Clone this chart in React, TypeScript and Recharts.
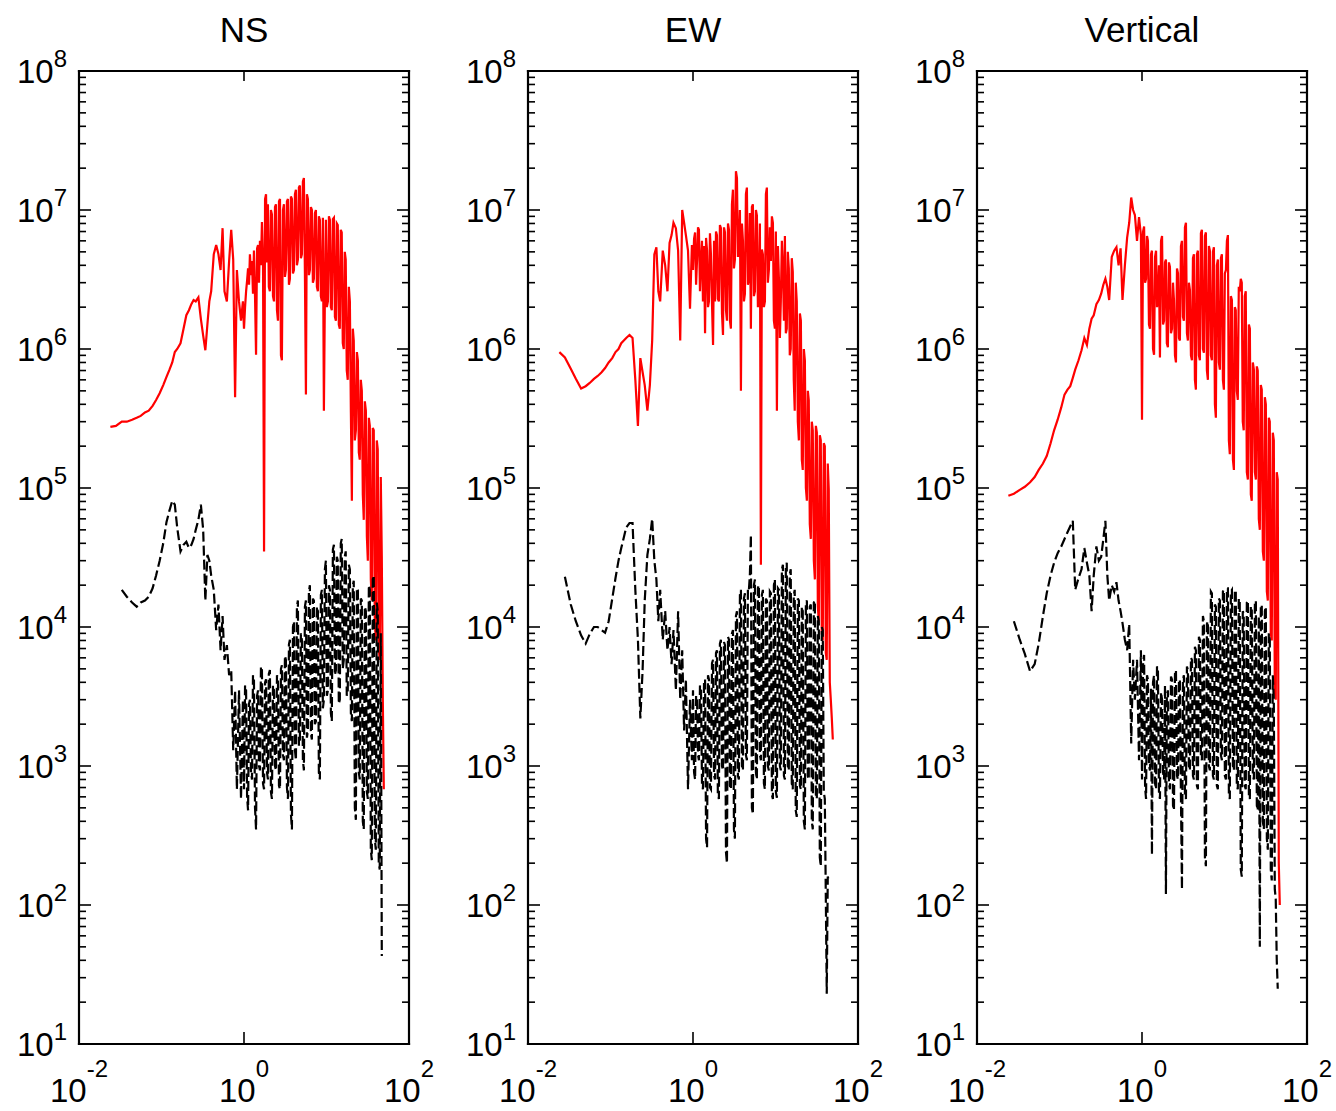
import { LineChart, Line, XAxis, YAxis } from 'recharts'

// frequency grid (Hz), shared by the three components
const freqs = [
  0.024, 0.028, 0.033, 0.038, 0.044, 0.05, 0.056, 0.063, 0.07, 0.078,
  0.086, 0.095, 0.105, 0.115, 0.125, 0.135, 0.145, 0.155, 0.17, 0.185,
  0.2, 0.215, 0.23, 0.245, 0.26, 0.28, 0.3, 0.32, 0.34, 0.36,
  0.38, 0.4, 0.43, 0.46, 0.49, 0.52, 0.55, 0.58, 0.62, 0.66,
  0.7, 0.74, 0.78, 0.82, 0.87, 0.92, 0.97,
  1.0, 1.03, 1.06, 1.09, 1.12, 1.15, 1.18, 1.215, 1.25, 1.285,
  1.32, 1.36, 1.4, 1.44, 1.48, 1.52, 1.56, 1.605, 1.65, 1.7,
  1.75, 1.8, 1.85, 1.9, 1.95, 2.0, 2.06, 2.12, 2.18, 2.245,
  2.31, 2.375, 2.44, 2.51, 2.58, 2.655, 2.73, 2.805, 2.88, 2.965,
  3.05, 3.135, 3.22, 3.315, 3.41, 3.505, 3.6, 3.705, 3.81, 3.92,
  4.03, 4.145, 4.26, 4.38, 4.5, 4.63, 4.76, 4.895, 5.03, 5.175,
  5.32, 5.475, 5.63, 5.79, 5.95, 6.12, 6.29, 6.47, 6.65, 6.84,
  7.03, 7.235, 7.44, 7.65, 7.86, 8.08, 8.31, 8.545, 8.79, 9.04,
  9.3, 9.565, 9.83, 10.1, 10.4, 10.7, 11.0, 11.3, 11.6, 11.95,
  12.3, 12.65, 13.0, 13.35, 13.7, 14.1, 14.5, 14.9, 15.3, 15.75,
  16.2, 16.65, 17.1, 17.6, 18.1, 18.65, 19.2, 19.75, 20.3, 20.85,
  21.4, 22.05, 22.7, 23.35, 24.0, 24.65, 25.3, 26.05, 26.8, 27.55,
  28.3, 29.15, 30.0, 30.85, 31.7, 32.6, 33.5, 34.45, 35.4, 36.4,
  37.4, 38.5, 39.6, 40.7, 41.8, 43.0, 44.2, 45.5, 46.8, 48.15,
  49.5
]

const nsRed = [
  2.75e5, 2.8e5, 3.0e5, 3.0e5, 3.1e5, 3.2e5, 3.3e5, 3.5e5, 3.6e5, 3.9e5,
  4.3e5, 4.8e5, 5.5e5, 6.3e5, 7.1e5, 8e5, 9.5e5, 1.0e6, 1.1e6, 1.4e6,
  1.75e6, 1.9e6, 2.1e6, 2.25e6, 2.2e6, 2.35e6, 1.65e6, 1.25e6, 9.8e5, 1.5e6,
  2.2e6, 2.6e6, 4.8e6, 5.6e6, 4.8e6, 3.7e6, 7.4e6, 2.6e6, 2.2e6, 4.3e6,
  7.2e6, 4.4e6, 4.5e5, 3.7e6, 2.2e6, 1.6e6, 2.2e6,
  1.4e6, 2.0e6, 2.6e6, 3.1e6, 3.8e6, 2.9e6, 4.8e6, 3.4e6, 4.3e6, 2.5e6, 5.1e6, 2.4e6, 9.1e5, 5.3e6, 5.6e6, 3.0e6, 6.0e6, 4.0e6, 8.2e6, 4.5e6,
  3.5e4, 1.2e7, 1.3e7, 4.2e6, 1.1e7, 2.8e6, 2.6e6, 1.0e7, 9.3e6, 2.4e6, 2.2e6, 1.05e7, 1.1e7, 1.9e6, 1.6e6, 1.15e7, 1.2e7, 9e5, 8.3e5, 1.0e7,
  1.1e7, 3.3e6, 3.7e6, 1.15e7, 1.2e7, 2.9e6, 3.2e6, 1.25e7, 1.2e7, 3.5e6, 3.7e6, 1.3e7, 1.4e7, 4.0e6, 4.4e6, 1.45e7, 1.5e7, 4.5e6, 4.8e6, 1.6e7,
  1.7e7, 3.5e6, 4.7e5, 1.3e7, 1.2e7, 3.4e6, 3.7e6, 1.05e7, 1.0e7, 3.0e6, 3.2e6, 9.5e6, 1.0e7, 2.8e6, 2.6e6, 9.0e6, 8.5e6, 2.4e6, 2.2e6, 8.8e6,
  3.6e5, 2.5e6, 8.5e6, 2.0e6, 2.2e6, 9.0e6, 8.5e6, 2.0e6, 1.9e6, 8.6e6, 8.8e6, 1.7e6, 1.6e6, 8.0e6, 7.8e6, 1.5e6, 1.4e6, 7.2e6, 6.9e6, 1.1e6,
  1.0e6, 5.0e6, 4.4e6, 7.0e5, 6.0e5, 2.8e6, 2.2e6, 3.5e5, 8.1e4, 1.4e6, 1.15e6, 2.2e5, 2.6e5, 9.5e5, 8.3e5, 1.8e5, 1.6e5, 6.0e5, 5.0e5, 9.0e4,
  5.9e4, 4.2e5, 3.6e5, 4.5e4, 3.0e4, 3.2e5, 2.8e5, 2.2e4, 1.55e4, 2.7e5, 2.6e5, 1.1e4, 8e3, 2.2e5, 1.9e5, 7e3, 5.8e3, 1.2e5, 3.2e4, 3e3,
  6.8e2
]

const nsBlack = [
  null, null, 1.85e4, 1.65e4, 1.5e4, 1.4e4, 1.5e4, 1.55e4, 1.65e4, 1.9e4,
  2.35e4, 3.0e4, 4.0e4, 5.7e4, 6.9e4, 8.1e4, 7.6e4, 5.2e4, 3.5e4, 3.9e4,
  4.1e4, 3.7e4, 3.9e4, 4.3e4, 5.0e4, 5.9e4, 7.6e4, 5.0e4, 1.55e4, 3.3e4,
  3.0e4, 2.35e4, 1.85e4, 9.5e3, 1.45e4, 6.8e3, 1.2e4, 5.8e3, 7.4e3, 4.5e3,
  4.9e3, 1.3e3, 3.5e3, 6.8e2, 3.5e3, 5.8e2, 3.0e3,
  6.8e2, 3.8e3, 3.5e3, 6e2, 4.8e2, 2.8e3, 3.0e3, 9e2, 8e2, 4.5e3, 4.2e3, 5e2, 3.5e2, 3.2e3, 3.5e3, 1.0e3, 9.3e2, 5.2e3, 4.9e3, 7.5e2,
  6.8e2, 4.0e3, 4.2e3, 9e2, 8e2, 4.6e3, 4.9e3, 6.5e2, 5.8e2, 3.8e3, 3.5e3, 1.0e3, 9.3e2, 4.5e3, 4.2e3, 7.2e2, 6.8e2, 5.0e3, 5.3e3, 1.2e3,
  1.1e3, 6.2e3, 5.8e3, 7e2, 5.8e2, 7.5e3, 8.1e3, 4.5e2, 3.5e2, 1.0e4, 1.1e4, 1.3e3, 1.1e3, 1.4e4, 1.55e4, 1.4e3, 1.55e3, 9e3, 8.1e3, 1.1e3,
  9.3e2, 1.4e4, 1.55e4, 1.6e3, 1.8e3, 1.8e4, 2.0e4, 1.7e3, 1.55e3, 1.6e4, 1.55e4, 2.0e3, 2.1e3, 1.4e4, 1.3e4, 9e2, 8e2, 1.7e4, 1.85e4, 2.6e3,
  3.0e3, 2.6e4, 3.0e4, 3.2e3, 3.5e3, 2.0e4, 1.85e4, 2.4e3, 2.1e3, 3.6e4, 3.9e4, 4.5e3, 4.9e3, 3.2e4, 3.0e4, 2.8e3, 3.0e3, 4.0e4, 4.3e4, 5.0e3,
  5.8e3, 3.2e4, 3.5e4, 3.2e3, 3.5e3, 2.8e4, 2.6e4, 2.4e3, 2.1e3, 2.0e4, 2.15e4, 5e2, 4.1e2, 1.9e4, 1.85e4, 9e2, 8e2, 1.6e4, 1.55e4, 4e2,
  3.5e2, 1.4e4, 1.3e4, 6.5e2, 5.8e2, 2.0e4, 1.85e4, 2.5e2, 2.1e2, 2.2e4, 2.35e4, 3e2, 2.5e2, 1.5e4, 1.3e4, 2.0e2, 1.8e2, 9e3, 4.3e1, null,
  null
]

const ewRed = [
  9.5e5, 8.7e5, 7.2e5, 6.1e5, 5.2e5, 5.4e5, 5.7e5, 6.1e5, 6.4e5, 6.8e5,
  7.3e5, 8e5, 8.6e5, 9.5e5, 1.0e6, 1.1e6, 1.15e6, 1.2e6, 1.26e6, 1.2e6,
  6e5, 2.8e5, 8.6e5, 6.8e5, 5.5e5, 3.6e5, 5.5e5, 1.15e6, 4.8e6, 5.4e6,
  2.6e6, 2.2e6, 5.1e6, 4e6, 2.6e6, 5.8e6, 6.6e6, 8.1e6, 7.4e6, 5.1e6,
  1.15e6, 1.0e7, 8.1e6, 6.6e6, 5.1e6, 1.95e6, 5.6e6,
  3.7e6, 6.2e6, 6.9e6, 2.9e6, 4.4e6, 7.5e6, 7.2e6, 2.6e6, 4.3e6, 6.0e6, 2.2e6, 5.5e6, 1.3e6, 6.3e6, 5.1e6, 2.0e6, 2.2e6, 6.8e6, 4.8e6, 2.1e6,
  1.07e6, 6.0e6, 2.2e6, 7.0e6, 6.6e6, 2.3e6, 2.2e6, 7.8e6, 7.4e6, 1.8e6, 1.26e6, 7.5e6, 6.9e6, 1.9e6, 1.6e6, 8.0e6, 7.2e6, 1.6e6, 1.4e6, 1.1e7,
  1.4e7, 3.8e6, 4.4e6, 1.9e7, 1.7e7, 4.6e6, 5.1e6, 1.0e7, 5e5, 8.0e6, 6e6, 2.2e6, 2.5e6, 1.3e7, 1.45e7, 2.9e6, 3.2e6, 9.5e6, 1.4e6, 1.05e7,
  1.1e7, 2.4e6, 2.6e6, 1.0e7, 9.1e6, 2.0e6, 2.2e6, 8.0e6, 2.8e4, 5.2e6, 4.8e6, 2.0e6, 2.2e6, 1.3e7, 1.45e7, 3.0e6, 3.7e6, 7.5e6, 4.3e6, 9.0e6,
  8.1e6, 1.6e6, 1.4e6, 7.0e6, 3.6e5, 5.5e6, 3.2e6, 1.2e6, 2.2e6, 6.0e6, 3.7e6, 1.6e6, 6.5e6, 1.3e6, 1.4e6, 5.0e6, 3.8e6, 9e5, 1.0e6, 4.5e6,
  3.6e6, 6e5, 3.6e5, 3.0e6, 2.2e6, 3.0e5, 2.2e5, 1.8e6, 1.6e6, 1.6e5, 1.35e5, 1.0e6, 8.3e5, 1.0e5, 8.1e4, 5.0e5, 4.3e5, 5.5e4, 4.3e4, 3.0e5,
  2.6e5, 3.0e4, 2.2e4, 2.8e5, 2.5e5, 1.4e4, 1.1e4, 2.4e5, 2.2e5, 9e3, 8e3, 2.1e5, 2.0e5, 6.5e3, 5.8e3, 1.5e5, 9.8e4, 4e3, 3.0e3, 2.2e3,
  1.55e3
]

const ewBlack = [
  null, 2.3e4, 1.45e4, 1.1e4, 8.7e3, 7.6e3, 8.9e3, 1.0e4, 1.0e4, 9.5e3,
  9.1e3, 1.1e4, 1.6e4, 2.25e4, 3.0e4, 3.7e4, 4.4e4, 5.2e4, 5.6e4, 5.6e4,
  1.85e4, 8.1e3, 2.2e3, 4.9e3, 1.55e4, 3.3e4, 4.3e4, 6.0e4, 3.0e4, 2.2e4,
  1.1e4, 1.85e4, 8.1e3, 1.3e4, 6.8e3, 1.0e4, 5.4e3, 9.5e3, 3.5e3, 1.3e4,
  3.0e3, 6.8e3, 1.8e3, 4.2e3, 6.8e2, 3.0e3, 1.1e3,
  3.5e3, 9e2, 8e2, 3.2e3, 3.0e3, 1.2e3, 1.1e3, 3.8e3, 3.5e3, 7.5e2, 6.8e2, 4.0e3, 4.2e3, 3.0e2, 2.6e2, 4.5e3, 4.2e3, 7.0e2, 6.8e2, 5.5e3,
  5.8e3, 8.5e2, 8e2, 6.5e3, 6.8e3, 6.2e2, 5.8e2, 7.6e3, 8.1e3, 1.0e3, 9.3e2, 7.8e3, 7.4e3, 2.4e2, 2e2, 8.5e3, 8.1e3, 7.2e2, 6.8e2, 9.0e3,
  9.5e3, 3.5e2, 3e2, 1.2e4, 1.3e4, 8.5e2, 8e2, 1.7e4, 1.85e4, 1.0e3, 9.3e2, 1.6e4, 1.75e4, 1.2e3, 1.1e3, 1.9e4, 1.85e4, 2.4e4, 4.6e4, 5e2,
  4.5e2, 2.0e4, 2.2e4, 9e2, 8e2, 1.9e4, 2.0e4, 1.2e3, 1.1e3, 1.7e4, 1.85e4, 7.5e2, 6.8e2, 1.6e4, 1.55e4, 1.0e3, 9.3e2, 1.8e4, 1.75e4, 6.2e2,
  5.8e2, 2.0e4, 2.2e4, 6.5e2, 5.9e2, 1.9e4, 1.85e4, 1.0e3, 9.3e2, 2.6e4, 2.8e4, 8.5e2, 8e2, 2.7e4, 2.9e4, 1.0e3, 9.3e2, 2.4e4, 2.6e4, 7.5e2,
  6.8e2, 1.7e4, 1.85e4, 4.8e2, 4.3e2, 1.6e4, 1.55e4, 7.2e2, 6.8e2, 1.4e4, 1.3e4, 4.0e2, 3.5e2, 1.5e4, 1.55e4, 8.5e2, 8e2, 1.4e4, 1.45e4, 4.0e2,
  3.5e2, 1.5e4, 1.55e4, 6.2e2, 5.8e2, 1.2e4, 1.1e4, 2.2e2, 1.9e2, 1.0e4, 9.5e3, 6.5e2, 5.8e2, 1.2e2, 2.3e1, 1.6e2, 1.5e2, null, null, null,
  null
]

const vtRed = [
  8.8e4, 9.1e4, 9.7e4, 1.02e5, 1.1e5, 1.2e5, 1.35e5, 1.5e5, 1.7e5, 2.1e5,
  2.6e5, 3.1e5, 3.8e5, 4.7e5, 5.1e5, 5.4e5, 6.2e5, 7.1e5, 8.3e5, 9.8e5,
  1.2e6, 1.07e6, 1.4e6, 1.65e6, 1.75e6, 2.1e6, 2.25e6, 2.5e6, 2.9e6, 3.2e6,
  2.8e6, 2.25e6, 4.6e6, 5.1e6, 5.4e6, 4e6, 5.3e6, 2.25e6, 4e6, 6.3e6,
  8.1e6, 1.23e7, 1e7, 9.2e6, 6e6, 8.9e6, 6.6e6,
  3.1e5, 7.0e6, 7.6e6, 3.0e6, 3.2e6, 6.5e6, 6e6, 1.5e6, 1.4e6, 4.8e6, 5.1e6, 1.0e6, 9.1e5, 4.6e6, 5.1e6, 2.0e6, 2.25e6, 4.0e6, 8.7e5, 6.0e6,
  6.5e6, 1.5e6, 1.6e6, 4.2e6, 4.4e6, 1.1e6, 1.03e6, 4.2e6, 3.9e6, 1.3e6, 1.4e6, 3.0e6, 2.25e6, 9e5, 8e5, 3.8e6, 3.5e6, 1.2e6, 1.15e6, 5.5e6,
  6e6, 1.7e6, 1.6e6, 7.5e6, 8.1e6, 1.3e6, 1.15e6, 3.0e6, 2.65e6, 9e5, 8.3e5, 4.5e6, 4.8e6, 6e5, 5.1e5, 4.8e6, 5.1e6, 9e5, 8.3e5, 6.8e6,
  7.2e6, 1.0e6, 9.4e5, 6.5e6, 6.9e6, 7e5, 6e5, 5.5e6, 5.1e6, 9e5, 8.3e5, 5.0e6, 5.4e6, 4e5, 3.2e5, 4.0e6, 4.4e6, 8e5, 7.1e5, 4.5e6,
  4.8e6, 6e5, 5.1e5, 3.5e6, 3.7e6, 6.0e6, 6.6e6, 2.2e5, 1.75e5, 2.4e6, 2.25e6, 1.6e5, 1.35e5, 2.0e6, 1.9e6, 5e5, 4.3e5, 2.8e6, 2.6e6, 3.2e6,
  3e6, 3e5, 2.6e5, 2.4e6, 2.6e6, 1.3e5, 1.15e5, 1.5e6, 1.4e6, 9e4, 8.1e4, 8e5, 7.1e5, 1.3e5, 1.15e5, 7.5e5, 7e5, 6e4, 5e4, 5.5e5,
  5.1e5, 3.5e4, 3e4, 4.5e5, 4e5, 1.8e4, 1.55e4, 3.2e5, 3e5, 9e3, 8e3, 2.5e5, 2.2e5, 3.5e3, 3e3, 1.3e5, 1.15e5, 2e2, 1e2, null,
  null
]

const vtBlack = [
  null, 1.1e4, 8.1e3, 6.4e3, 4.8e3, 5.4e3, 7.6e3, 1.2e4, 1.75e4, 2.35e4,
  2.9e4, 3.4e4, 3.8e4, 4.3e4, 4.8e4, 5.3e4, 5.8e4, 1.85e4, 2.25e4, 2.6e4,
  3.7e4, 2.9e4, 2.35e4, 1.3e4, 2.35e4, 3.8e4, 3.0e4, 3.2e4, 4.3e4, 5.8e4,
  2.35e4, 1.55e4, 2e4, 1.8e4, 2.1e4, 1.55e4, 1.3e4, 1.07e4, 8.1e3, 6.8e3,
  1.05e4, 1.45e3, 5.8e3, 3.0e3, 5.8e3, 1.1e3, 6.8e3,
  8e2, 5.5e3, 6.3e3, 7e2, 5.8e2, 4.5e3, 4.2e3, 1.0e3, 9.3e2, 3.6e3, 2.3e2, 4.0e3, 4.5e3, 7.5e2, 6.8e2, 5.2e3, 5e3, 6.5e2, 5.8e2, 3.4e3,
  3e3, 9e2, 8e2, 3.8e3, 1.2e2, 3.2e3, 3.5e3, 7.5e2, 6.8e2, 4.4e3, 4.2e3, 5.2e2, 4.8e2, 4.6e3, 4.9e3, 8.5e2, 8e2, 4.0e3, 4.2e3, 6e2,
  1.3e2, 4.2e3, 4.5e3, 6.2e2, 5.8e2, 5.2e3, 4.9e3, 1.0e3, 9.3e2, 6.0e3, 5.8e3, 8.5e2, 8e2, 7.2e3, 6.8e3, 7.2e2, 6.8e2, 8.5e3, 8.1e3, 1.2e3,
  1.1e3, 1.2e4, 1.1e4, 2.2e2, 1.9e2, 1.05e4, 1.1e4, 1.0e3, 9.3e2, 1.8e4, 1.75e4, 8.5e2, 8e2, 1.45e4, 1.4e4, 7.2e2, 6.8e2, 1.6e4, 1.55e4, 1.2e3,
  1.1e3, 1.8e4, 1.85e4, 8.5e2, 8e2, 1.9e4, 1.9e4, 6.2e2, 5.8e2, 1.8e4, 1.85e4, 1.0e3, 9.3e2, 1.8e4, 1.85e4, 7.2e2, 6.8e2, 1.6e4, 1.55e4, 1.8e2,
  1.6e2, 1.3e4, 1.25e4, 7.2e2, 6.8e2, 1.5e4, 1.55e4, 6.2e2, 5.8e2, 1.4e4, 1.4e4, 8.5e2, 8e2, 1.5e4, 1.55e4, 5.2e2, 4.8e2, 1.2e4, 5e1, 1.4e4,
  1.45e4, 4.0e2, 3.5e2, 1.3e4, 1.4e4, 3.0e2, 2.5e2, 9e3, 8.1e3, 1.8e2, 1.5e2, 4.5e3, 3e3, 1.3e2, 1.1e2, 4.0e1, 2.5e1, null, null, null,
  null
]

const titles = ['NS', 'EW', 'Vertical']
const xTicks = [0.01, 1, 100]
const yDecades = [1e1, 1e2, 1e3, 1e4, 1e5, 1e6, 1e7, 1e8]
const minorSteps = [2, 3, 4, 5, 6, 7, 8, 9]

const yTicks = yDecades.flatMap((d, i) =>
  i < yDecades.length - 1 ? [d, ...minorSteps.map((m) => d * m)] : [d]
)

const FONT = '"Liberation Sans", Arial, Helvetica, sans-serif'
const W = 440
const H = 1111
const PANEL_STEP = 449

const expOf = (v: number) => Math.round(Math.log10(v))
const isMajor = (v: number) => Math.abs(Math.log10(v) - expOf(v)) < 1e-6

const LeftTick = ({ x, y, payload }: any) => {
  const major = isMajor(payload.value)
  return (
    <g>
      <line x1={x} x2={x + (major ? 12 : 7)} y1={y} y2={y} stroke='#000' strokeWidth={1.6} />
      {major && (
        <text x={x - 12} y={y + 12} textAnchor='end' fontFamily={FONT} fontSize={33} fill='#000'>
          10<tspan dy={-16} fontSize={24}>{expOf(payload.value)}</tspan>
        </text>
      )}
    </g>
  )
}

const RightTick = ({ x, y, payload }: any) => {
  const major = isMajor(payload.value)
  return <line x1={x} x2={x - (major ? 12 : 7)} y1={y} y2={y} stroke='#000' strokeWidth={1.6} />
}

const BottomTick = ({ x, y, payload }: any) => (
  <g>
    <line x1={x} x2={x} y1={y} y2={y - 12} stroke='#000' strokeWidth={1.6} />
    <text x={x} y={y + 58} textAnchor='middle' fontFamily={FONT} fontSize={33} fill='#000'>
      10<tspan dy={-25} fontSize={24}>{expOf(payload.value)}</tspan>
    </text>
  </g>
)

const TopTick = ({ x, y }: any) => (
  <line x1={x} x2={x} y1={y} y2={y + 10} stroke='#000' strokeWidth={1.6} />
)

const axisLine = { stroke: '#000', strokeWidth: 2.2, strokeLinecap: 'square' }

const Panel = ({ title, red, black, index }: any) => {
  const rows = freqs.map((f, i) => ({ f, red: red[i] ?? null, black: black[i] ?? null }))
  return (
    <div style={{ position: 'absolute', left: index * PANEL_STEP, top: 0, width: W, height: H }}>
      <div
        style={{
          position: 'absolute',
          left: 79,
          width: 330,
          top: 12,
          textAlign: 'center',
          fontFamily: FONT,
          fontSize: 35,
          lineHeight: '35px',
          color: '#000'
        }}
      >
        {title}
      </div>
      <LineChart width={W} height={H} data={rows} margin={{ top: 61, right: 21, bottom: 37, left: 19 }}>
        <XAxis
          xAxisId='b'
          dataKey='f'
          type='number'
          scale='log'
          domain={[0.01, 100]}
          allowDataOverflow
          ticks={xTicks}
          interval={0}
          height={30}
          tickSize={0}
          tickMargin={0}
          tickLine={false}
          axisLine={axisLine}
          tick={<BottomTick />}
        />
        <XAxis
          xAxisId='t'
          orientation='top'
          dataKey='f'
          type='number'
          scale='log'
          domain={[0.01, 100]}
          allowDataOverflow
          ticks={xTicks}
          interval={0}
          height={10}
          tickSize={0}
          tickMargin={0}
          tickLine={false}
          axisLine={axisLine}
          tick={<TopTick />}
        />
        <YAxis
          yAxisId='l'
          type='number'
          scale='log'
          domain={[10, 1e8]}
          allowDataOverflow
          ticks={yTicks}
          interval={0}
          width={60}
          tickSize={0}
          tickMargin={0}
          tickLine={false}
          axisLine={axisLine}
          tick={<LeftTick />}
        />
        <YAxis
          yAxisId='r'
          orientation='right'
          type='number'
          scale='log'
          domain={[10, 1e8]}
          allowDataOverflow
          ticks={yTicks}
          interval={0}
          width={10}
          tickSize={0}
          tickMargin={0}
          tickLine={false}
          axisLine={axisLine}
          tick={<RightTick />}
        />
        <Line
          xAxisId='b'
          yAxisId='l'
          dataKey='red'
          stroke='#ff0000'
          strokeWidth={2.2}
          dot={false}
          activeDot={false}
          isAnimationActive={false}
        />
        <Line
          xAxisId='b'
          yAxisId='l'
          dataKey='black'
          stroke='#000'
          strokeWidth={2.2}
          strokeDasharray='10 4'
          dot={false}
          activeDot={false}
          isAnimationActive={false}
        />
      </LineChart>
    </div>
  )
}

export default function App () {
  return (
    <div style={{ position: 'absolute', left: 0, top: 0, width: 1336, height: H, background: '#fff' }}>
      <Panel index={0} title={titles[0]} red={nsRed} black={nsBlack} />
      <Panel index={1} title={titles[1]} red={ewRed} black={ewBlack} />
      <Panel index={2} title={titles[2]} red={vtRed} black={vtBlack} />
    </div>
  )
}
